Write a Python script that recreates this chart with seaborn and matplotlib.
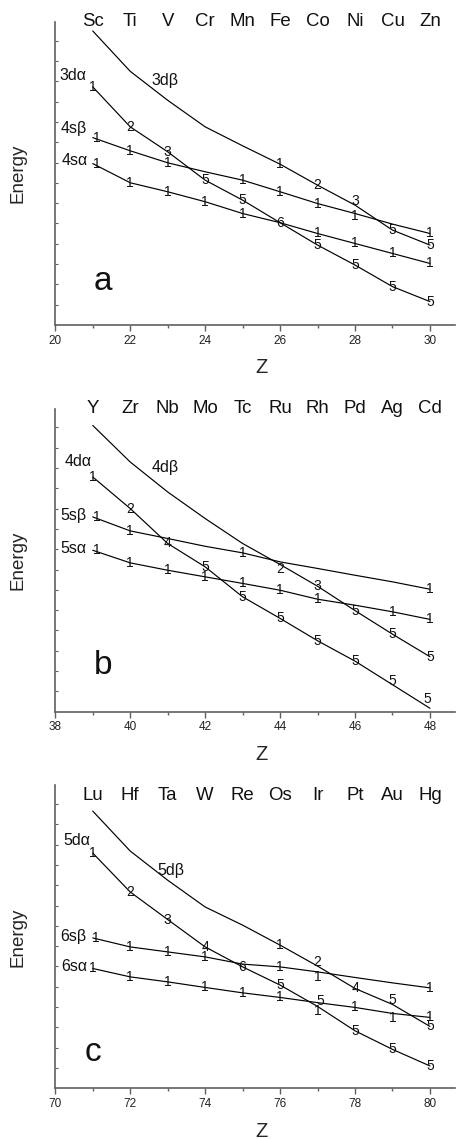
import matplotlib
matplotlib.use("Agg")
import matplotlib.pyplot as plt
import numpy as np
import pandas as pd
import seaborn as sns

# ---------------- data ----------------
# Panel a : 3d row
Z_a = [21, 22, 23, 24, 25, 26, 27, 28, 29, 30]
elements_a = ["Sc", "Ti", "V", "Cr", "Mn", "Fe", "Co", "Ni", "Cu", "Zn"]
d_beta_a = [14.72, 12.70, 11.25, 9.92, 8.97, 8.05, 7.00, 6.00, 4.75, 4.00]
d_alpha_a = [11.92, 9.92, 8.67, 7.25, 6.25, 5.12, 4.00, 3.00, 1.92, 1.17]
s_beta_a = [9.38, 8.72, 8.12, 7.67, 7.25, 6.67, 6.08, 5.58, 5.05, 4.58]
s_alpha_a = [8.08, 7.12, 6.67, 6.17, 5.58, 5.12, 4.58, 4.08, 3.58, 3.08]
lab_d_beta_a = ["", "", "", "", "", "1", "2", "3", "5", "5"]
lab_d_alpha_a = ["1", "2", "3", "5", "5", "6", "5", "5", "5", "5"]
lab_s_beta_a = ["1", "1", "1", "", "1", "1", "1", "1", "", "1"]
lab_s_alpha_a = ["1", "1", "1", "1", "1", "", "1", "1", "1", "1"]

# Panel b : 4d row
Z_b = [39, 40, 41, 42, 43, 44, 45, 46, 47, 48]
elements_b = ["Y", "Zr", "Nb", "Mo", "Tc", "Ru", "Rh", "Pd", "Ag", "Cd"]
d_beta_b = [14.33, 12.50, 11.00, 9.67, 8.42, 7.37, 6.28, 5.06, 3.88, 2.75]
d_alpha_b = [11.75, 10.17, 8.42, 7.25, 5.75, 4.67, 3.55, 2.53, 1.35, 0.17]
s_beta_b = [9.75, 9.05, 8.67, 8.28, 7.95, 7.50, 7.17, 6.83, 6.50, 6.13]
s_alpha_b = [8.08, 7.45, 7.08, 6.75, 6.42, 6.08, 5.63, 5.33, 5.00, 4.62]
lab_d_beta_b = ["", "", "", "", "", "2", "3", "5", "5", "5"]
lab_d_alpha_b = ["1", "2", "4", "5", "5", "5", "5", "5", "5", "5"]
lab_s_beta_b = ["1", "1", "", "", "1", "", "", "", "", "1"]
lab_s_alpha_b = ["1", "1", "1", "1", "1", "1", "1", "", "1", "1"]

# Panel c : 5d row
Z_c = [71, 72, 73, 74, 75, 76, 77, 78, 79, 80]
elements_c = ["Lu", "Hf", "Ta", "W", "Re", "Os", "Ir", "Pt", "Au", "Hg"]
d_beta_c = [13.88, 11.88, 10.42, 9.08, 8.17, 7.17, 6.12, 5.00, 4.20, 3.10]
d_alpha_c = [11.78, 9.83, 8.45, 7.08, 6.08, 5.17, 4.10, 2.88, 1.95, 1.12]
s_beta_c = [7.53, 7.08, 6.83, 6.58, 6.22, 6.08, 5.83, 5.55, 5.28, 5.03]
s_alpha_c = [6.00, 5.58, 5.33, 5.05, 4.78, 4.55, 4.29, 4.05, 3.75, 3.55]
lab_d_beta_c = ["", "", "", "", "", "1", "2", "4", "5", "5"]
lab_d_alpha_c = ["1", "2", "3", "4", "6", "5", "5", "5", "5", "5"]
lab_s_beta_c = ["1", "1", "1", "1", "", "1", "1", "", "", "1"]
lab_s_alpha_c = ["1", "1", "1", "1", "1", "1", "1", "1", "1", "1"]

series_names_a = ["3d\u03b2", "3d\u03b1", "4s\u03b2", "4s\u03b1"]
series_names_b = ["4d\u03b2", "4d\u03b1", "5s\u03b2", "5s\u03b1"]
series_names_c = ["5d\u03b2", "5d\u03b1", "6s\u03b2", "6s\u03b1"]
panel_letters = ["a", "b", "c"]

# ---------------- layout / style ----------------
sns.set_theme(style="white")
plt.rcParams["font.family"] = ["Liberation Sans", "DejaVu Sans"]
plt.rcParams["text.color"] = "#111111"

panels = [
    dict(Z=Z_a, el=elements_a, names=series_names_a,
         ys=[d_beta_a, d_alpha_a, s_beta_a, s_alpha_a],
         labs=[lab_d_beta_a, lab_d_alpha_a, lab_s_beta_a, lab_s_alpha_a],
         name_pos=[(22.93, 12.25), (20.48, 12.5), (20.5, 9.83), (20.52, 8.22)],
         letter_pos=(21.28, 2.17), el_y=15.17, bottom=0.7147),
    dict(Z=Z_b, el=elements_b, names=series_names_b,
         ys=[d_beta_b, d_alpha_b, s_beta_b, s_alpha_b],
         labs=[lab_d_beta_b, lab_d_alpha_b, lab_s_beta_b, lab_s_alpha_b],
         name_pos=[(40.93, 12.22), (38.6, 12.5), (38.48, 9.83), (38.48, 8.17)],
         letter_pos=(39.28, 2.33), el_y=15.17, bottom=0.3752),
    dict(Z=Z_c, el=elements_c, names=series_names_c,
         ys=[d_beta_c, d_alpha_c, s_beta_c, s_alpha_c],
         labs=[lab_d_beta_c, lab_d_alpha_c, lab_s_beta_c, lab_s_alpha_c],
         name_pos=[(73.08, 10.92), (70.57, 12.42), (70.48, 7.62), (70.5, 6.08)],
         letter_pos=(71.0, 1.78), el_y=14.67, bottom=0.0445),
]

# small label nudges (points): (panel, series, index) -> (dx, dy)
nudges = {
    (0, 2, 0): (3, 0), (0, 3, 0): (3, 0),
    (0, 0, 7): (0, 3), (0, 2, 7): (0, -2),
    (1, 0, 5): (0, -3), (1, 1, 9): (-2, 7), (1, 1, 8): (0, 3),
    (2, 1, 6): (2, 4), (2, 3, 6): (0, -6),
    (2, 0, 6): (0, 3), (2, 2, 6): (0, -3.5),
    (2, 0, 8): (0, 3), (2, 3, 8): (0, -3),
    (1, 2, 0): (3, 0), (1, 3, 0): (3, 0), (2, 2, 0): (2, 0),
}

spine_col = "#606060"
fig = plt.figure(figsize=(4.6, 11.39), dpi=100)

for pi, p in enumerate(panels):
    ax = fig.add_axes([0.1202, p["bottom"], 0.869, 0.266])
    x0 = p["Z"][0] - 1
    for si, (yv, nm) in enumerate(zip(p["ys"], p["names"])):
        df = pd.DataFrame({"Z": p["Z"], "E": yv})
        sns.lineplot(data=df, x="Z", y="E", ax=ax, color="black",
                     linewidth=0.85, estimator=None, sort=False)
        for k, (zz, ee, t) in enumerate(zip(p["Z"], yv, p["labs"][si])):
            if not t:
                continue
            dx, dy = nudges.get((pi, si, k), (0, 0))
            ax.annotate(t, (zz, ee), xytext=(dx, dy), textcoords="offset points",
                        ha="center", va="center", fontsize=10, color="#111111")
        nx, ny = p["name_pos"][si]
        ax.text(nx, ny, nm, ha="center", va="center", fontsize=11.5)
    for zz, el in zip(p["Z"], p["el"]):
        ax.text(zz, p["el_y"], el, ha="center", va="center", fontsize=13.4,
                clip_on=False)
    lx, ly = p["letter_pos"]
    ax.text(lx, ly, panel_letters[pi], ha="center", va="center", fontsize=24)

    ax.set_xlim(x0, x0 + 10.67)
    ax.set_ylim(0, 15.17)
    ax.set_xticks(list(range(x0, x0 + 11, 2)))
    ax.set_xticks(list(range(x0 + 1, x0 + 10, 2)), minor=True)
    ax.set_yticks([k * 61 / 60 for k in range(1, 15)])
    ax.tick_params(axis="x", which="major", direction="out", length=4,
                   width=1, color=spine_col, labelsize=8.5, pad=3,
                   labelcolor="#222222", bottom=True)
    ax.tick_params(axis="x", which="minor", direction="out", length=2.2,
                   width=1, color=spine_col, bottom=True)
    ax.tick_params(axis="y", which="major", direction="in", length=2.5,
                   width=0.8, color=spine_col, labelleft=False, left=True)
    for s in ["top", "right"]:
        ax.spines[s].set_visible(False)
    for s in ["left", "bottom"]:
        ax.spines[s].set_color(spine_col)
        ax.spines[s].set_linewidth(1.2)
    ax.set_xlabel("Z", fontsize=14.5)
    ax.set_ylabel("Energy", fontsize=13.5)
    ax.xaxis.set_label_coords(0.515, -0.142)
    ax.xaxis.label.set_va("center")
    ax.yaxis.set_label_coords(-0.0926, 0.5)
    ax.yaxis.label.set_va("center")
    ax.set_facecolor("white")

fig.savefig("out.png", dpi=100, facecolor="white")
